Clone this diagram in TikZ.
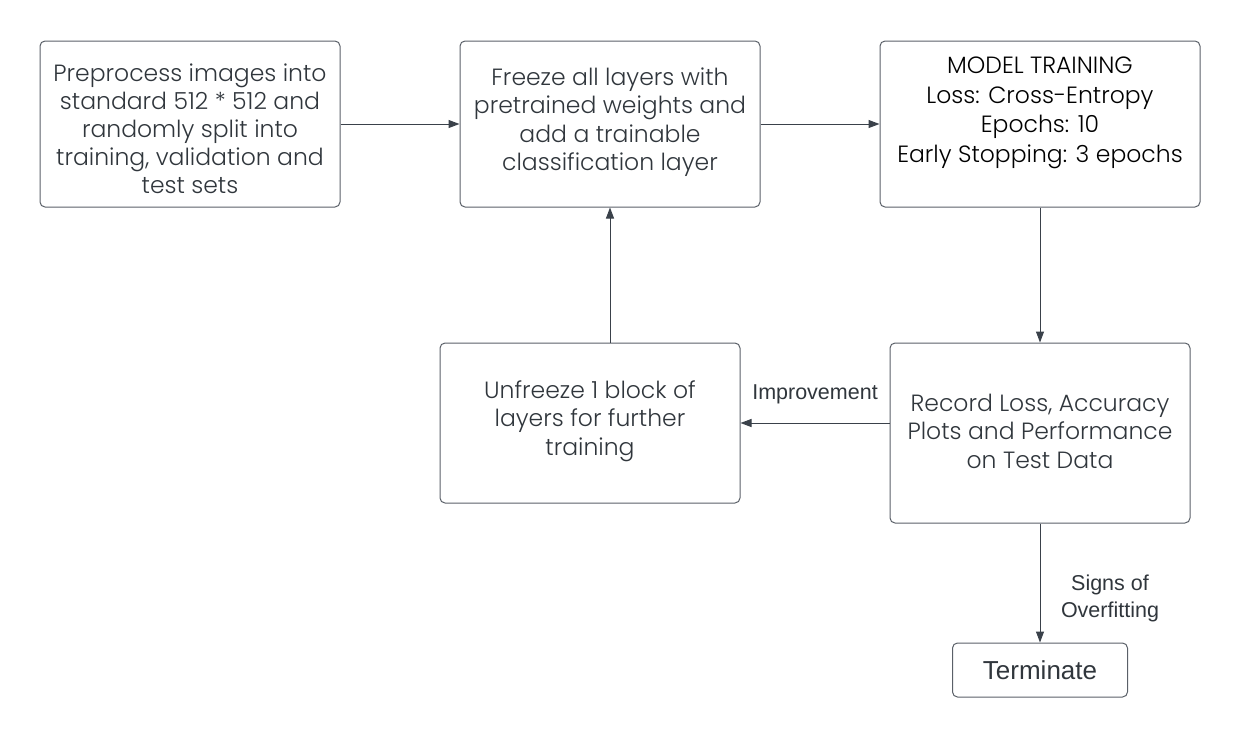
\documentclass[tikz,border=0pt]{standalone}
\usepackage{fontspec}
\setmainfont{Poppins}[UprightFont=* Light]
\newfontfamily\lblfont{Liberation Sans}
\usetikzlibrary{arrows.meta}
\definecolor{edge}{HTML}{3A414A}
\definecolor{boxline}{HTML}{5A6068}
\definecolor{txt}{HTML}{30363C}
\tikzset{
  box/.style={draw=boxline, line width=1pt, rounded corners=5pt, align=center,
    text=txt, inner sep=0pt},
  btext/.style={text=txt, align=center, font=\fontsize{23.5}{28.5}\selectfont},
  conn/.style={draw=edge, line width=1pt, -{Triangle[length=11pt,width=8pt]}},
  lbl/.style={font=\lblfont\fontsize{21.5}{27}\selectfont, text=txt, align=center}
}
\begin{document}
\begin{tikzpicture}[x=1pt,y=-1pt]
\useasboundingbox (0,0) rectangle (1240,737);
\node[box, minimum width=300pt, minimum height=166pt] (b1) at (190,124) {};
\node[btext, font=\fontsize{23.5}{28}\selectfont] (t1) at (190,129)
  {Preprocess images into\\standard 512 * 512 and\\randomly split into\\training, validation and\\test sets};
\node[box, minimum width=300pt, minimum height=166pt] (b2) at (610,124) {};
\node[btext] (t2) at (610,122)
  {Freeze all layers with\\pretrained weights and\\add a trainable\\classification layer};
\node[box, minimum width=320pt, minimum height=166pt] (b3) at (1040,124) {};
\node[btext, text=black, font=\fontsize{23.5}{29.5}\selectfont] (t3) at (1040,113)
  {MODEL TRAINING\\Loss: Cross-Entropy\\Epochs: 10\\Early Stopping: 3 epochs};
\node[box, minimum width=300pt, minimum height=160pt] (b4) at (590,423) {};
\node[btext] (t4) at (590,421)
  {Unfreeze 1 block of\\layers for further\\training};
\node[box, minimum width=300pt, minimum height=180pt] (b5) at (1040,433) {};
\node[btext] (t5) at (1040,431)
  {Record Loss, Accuracy\\Plots and Performance\\on Test Data};
\node[box, minimum width=175pt, minimum height=54pt, font=\lblfont\fontsize{26}{30}\selectfont] (b6) at (1040,670) {Terminate};
\draw[conn] (b1.east) -- (b2.west);
\draw[conn] (b2.east) -- (b3.west);
\draw[conn] (b3.south) -- (b5.north);
\draw[conn] (b5.west |- b4.east) -- (b4.east) node[lbl, pos=0.5, above=15pt, anchor=south] (l1) {Improvement};
\draw[conn] (b2.south |- b4.north) -- (b2.south);
\draw[conn] (b5.south) -- (b6.north);
\node[lbl] (l2) at (1110,598) {Signs of\\Overfitting};
\end{tikzpicture}
\end{document}
